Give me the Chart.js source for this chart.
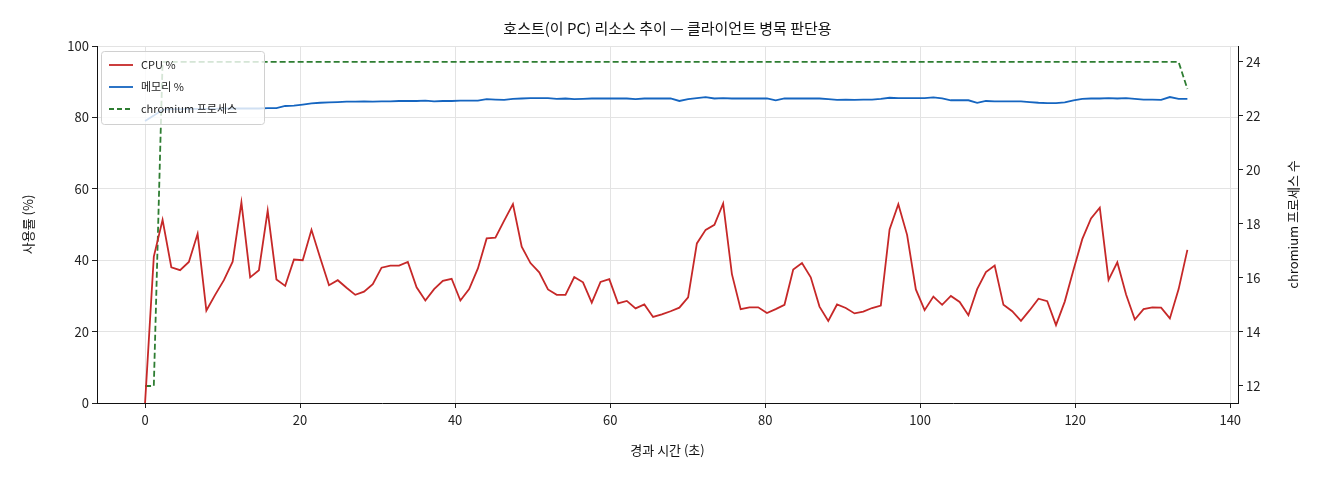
<!DOCTYPE html>
<html><head><meta charset="utf-8">
<script src="https://cdn.jsdelivr.net/npm/chart.js@4"></script>
<style>html,body{margin:0;padding:0;background:#fff}#w{width:1320px;height:480px}</style>
</head><body><div id="w"><canvas id="c"></canvas></div>
<script>
const times=[0,1.13,2.26,3.39,4.52,5.65,6.78,7.91,9.04,10.17,11.3,12.43,13.56,14.69,15.82,16.95,18.08,19.21,20.34,21.47,22.6,23.73,24.86,25.99,27.12,28.25,29.38,30.51,31.64,32.77,33.9,35.03,36.16,37.29,38.42,39.55,40.68,41.81,42.94,44.07,45.2,46.33,47.46,48.59,49.72,50.85,51.98,53.11,54.24,55.37,56.5,57.63,58.76,59.89,61.02,62.15,63.28,64.41,65.54,66.67,67.8,68.93,70.06,71.19,72.32,73.45,74.58,75.71,76.84,77.97,79.1,80.23,81.36,82.49,83.62,84.75,85.88,87.01,88.14,89.27,90.4,91.53,92.66,93.79,94.92,96.05,97.18,98.31,99.44,100.57,101.7,102.83,103.96,105.09,106.22,107.35,108.48,109.61,110.74,111.87,113,114.13,115.26,116.39,117.52,118.65,119.78,120.91,122.04,123.17,124.3,125.43,126.56,127.69,128.82,129.95,131.08,132.21,133.34,134.47];
const cpu=[0,41,51.3,38,37.2,39.5,47.4,25.9,30.3,34.4,39.6,56.2,35.2,37.2,53.9,34.6,32.8,40.2,40,48.5,40.6,33,34.4,32.3,30.3,31.2,33.3,37.9,38.5,38.5,39.5,32.4,28.7,31.9,34.2,34.8,28.7,31.9,37.7,46.1,
46.3,51.1,55.7,43.8,39.2,36.6,31.8,30.3,30.3,35.3,33.8,28.1,33.9,34.7,27.9,28.6,26.5,27.6,24.1,24.8,25.7,26.7,29.6,44.7,48.5,49.9,55.9,36.1,26.3,26.8,26.8,25.2,26.3,27.5,37.4,39.2,35.2,27,23,27.6,
26.6,25.1,25.6,26.6,27.3,48.6,55.7,47.1,31.8,26,29.8,27.5,30,28.3,24.6,31.9,36.7,38.5,27.5,25.7,23,26,29.2,28.5,21.8,28.4,37.3,45.9,51.7,54.7,34.5,39.4,30.4,23.4,26.3,26.8,26.7,23.7,31.9,42.9];
const mem=[79,80.5,82.2,82.3,82.3,82.4,82.4,82.4,82.4,82.5,82.5,82.5,82.5,82.5,82.6,82.6,83.2,83.3,83.6,83.9,84.1,84.2,84.3,84.4,84.4,84.5,84.4,84.5,84.5,84.6,84.6,84.6,84.7,84.5,84.6,84.6,84.7,84.7,84.7,85.1,
85,84.9,85.2,85.3,85.4,85.4,85.4,85.2,85.3,85.1,85.2,85.3,85.3,85.3,85.3,85.3,85.1,85.3,85.3,85.3,85.3,84.6,85.1,85.4,85.7,85.3,85.4,85.3,85.3,85.3,85.3,85.3,84.8,85.3,85.3,85.3,85.3,85.3,85.1,84.9,
85,84.9,85,85,85.2,85.5,85.4,85.4,85.4,85.4,85.6,85.3,84.8,84.8,84.8,84.1,84.6,84.5,84.5,84.5,84.5,84.3,84.1,84,84,84.2,84.8,85.2,85.3,85.3,85.4,85.3,85.4,85.2,85,85,84.9,85.7,85.2,85.2];
const procs=[12,12].concat(new Array(117).fill(24)).concat([23]);
const xTicks=[0,20,40,60,80,100,120,140];
const FONT='"Noto Sans CJK KR","Noto Sans",sans-serif';
const pts=a=>a.map((v,i)=>({x:times[i],y:v}));
const fixW=w=>s=>{s.width=w;};
const deco={id:'deco',afterDraw(ch){
  const c=ch.ctx,a=ch.chartArea;c.save();c.fillStyle='#111';
  c.font='15px '+FONT;c.textAlign='center';c.textBaseline='middle';
  c.fillText('호스트(이 PC) 리소스 추이 — 클라이언트 병목 판단용',(a.left+a.right)/2,28);
  c.font='13px '+FONT;
  c.fillText('경과 시간 (초)',(a.left+a.right)/2,450);
  c.save();c.translate(28,(a.top+a.bottom)/2);c.rotate(-Math.PI/2);c.fillText('사용률 (%)',0,0);c.restore();
  c.save();c.translate(1293,(a.top+a.bottom)/2);c.rotate(-Math.PI/2);c.fillText('chromium 프로세스 수',0,0);c.restore();
  // legend
  const lx=a.left+4,ly=a.top+5,lw=163,lh=73;
  c.fillStyle='rgba(255,255,255,0.8)';c.strokeStyle='#d0d0d0';c.lineWidth=1;
  c.beginPath();c.roundRect(lx+0.5,ly+0.5,lw,lh,3);c.fill();c.stroke();
  const items=[['CPU %','#c62828',[]],['메모리 %','#1565c0',[]],['chromium 프로세스','#2e7d32',[5,3]]];
  c.font='11px '+FONT;c.textAlign='left';
  items.forEach((it,k)=>{const y=ly+14+k*22;c.strokeStyle=it[1];c.lineWidth=1.8;c.setLineDash(it[2]);
    c.beginPath();c.moveTo(lx+8,y);c.lineTo(lx+32,y);c.stroke();c.setLineDash([]);
    c.fillStyle='#222';c.fillText(it[0],lx+40,y);});
  c.restore();}};
new Chart(document.getElementById('c'),{type:'line',
 data:{datasets:[
  {label:'CPU %',data:pts(cpu),borderColor:'#c62828',borderWidth:1.8,pointRadius:0,yAxisID:'y',tension:0},
  {label:'메모리 %',data:pts(mem),borderColor:'#1565c0',borderWidth:1.8,pointRadius:0,yAxisID:'y',tension:0},
  {label:'chromium 프로세스',data:pts(procs),borderColor:'#2e7d32',borderWidth:1.8,borderDash:[6,3],pointRadius:0,yAxisID:'y2',tension:0}]},
 options:{responsive:true,maintainAspectRatio:false,animation:false,
  layout:{padding:{top:46,left:0,right:0,bottom:0}},
  plugins:{legend:{display:false},title:{display:false},tooltip:{enabled:false}},
  scales:{
   x:{type:'linear',min:-6.2,max:141,afterFit:s=>{s.height=77;},
      afterBuildTicks:s=>{s.ticks=xTicks.map(v=>({value:v}));},
      grid:{color:'#e3e3e3',tickColor:'#222',tickLength:5},border:{color:'#111'},
      ticks:{color:'#222',font:{size:13,family:FONT},maxRotation:0,padding:4}},
   y:{min:0,max:100,afterFit:fixW(97),ticks:{stepSize:20,color:'#222',font:{size:13,family:FONT}},
      grid:{color:'#e3e3e3',tickColor:'#222',tickLength:5},border:{color:'#111'}},
   y2:{position:'right',min:11.37,max:24.59,afterFit:fixW(82),
      afterBuildTicks:s=>{s.ticks=[12,14,16,18,20,22,24].map(v=>({value:v}));},
      ticks:{color:'#222',font:{size:13,family:FONT}},
      grid:{drawOnChartArea:false,tickColor:'#222',tickLength:5},border:{color:'#111'}}}},
 plugins:[deco]});
</script></body></html>
